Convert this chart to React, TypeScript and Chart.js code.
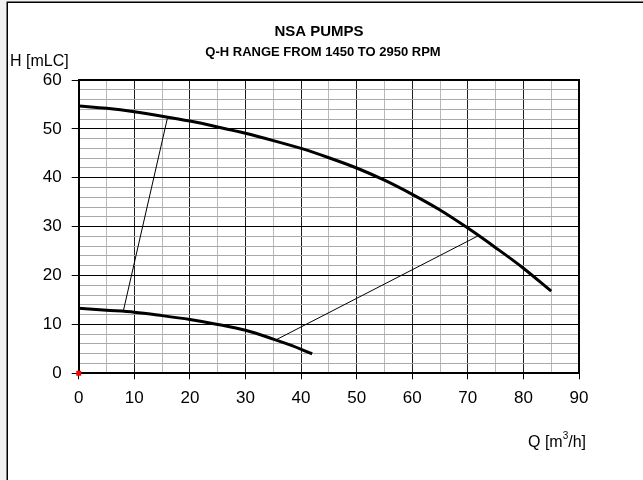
import React, { useEffect, useRef } from 'react';
import { Chart, registerables } from 'chart.js';

Chart.register(...registerables);

const TITLE = 'NSA PUMPS';
const SUBTITLE = 'Q-H RANGE FROM 1450 TO 2950 RPM';
const Y_LABEL = 'H [mLC]';
const X_LABEL_MAIN = 'Q [m';
const X_LABEL_SUP = '3';
const X_LABEL_END = '/h]';

// Q-H curve at 2950 rpm
const q2950 = [0, 5, 10, 15, 20, 25, 30, 35, 40, 45, 50, 55, 60, 65, 70, 75, 80, 85];
const h2950 = [54.7, 54.2, 53.5, 52.6, 51.6, 50.4, 49.1, 47.6, 46.0, 44.1, 42.0, 39.5, 36.6, 33.4, 29.7, 25.7, 21.5, 16.8];

// Q-H curve at 1450 rpm
const q1450 = [0, 5, 10, 15, 20, 25, 30, 35, 38, 42];
const h1450 = [13.3, 12.9, 12.5, 11.8, 11.0, 10.0, 8.8, 7.0, 5.8, 4.0];

// range boundary lines
const linkAQ = [8, 16];
const linkAH = [12.6, 52.4];
const linkBQ = [35.5, 72];
const linkBH = [6.85, 28.2];

// origin marker
const originQ = [0];
const originH = [0];

const X_MIN = 0;
const X_MAX = 90;
const Y_MIN = 0;
const Y_MAX = 60;

const FONT = "'Liberation Sans', Arial, sans-serif";

const toPts = (xs: number[], ys: number[]) => xs.map((x, i) => ({ x, y: ys[i] }));

export default function App() {
  const ref = useRef<HTMLCanvasElement | null>(null);

  useEffect(() => {
    const canvas = ref.current;
    if (!canvas) return;

    const frame = {
      id: 'frame',
      beforeDraw(chart: any) {
        const { ctx, width, height } = chart;
        ctx.save();
        ctx.fillStyle = '#f0f1f3';
        ctx.fillRect(0, 0, width, height);
        ctx.fillStyle = '#ffffff';
        ctx.fillRect(8, 3, width - 8, height - 3);
        ctx.strokeStyle = '#000';
        ctx.lineWidth = 1.5;
        ctx.beginPath();
        ctx.moveTo(7.25, height);
        ctx.lineTo(7.25, 2.25);
        ctx.lineTo(width, 2.25);
        ctx.stroke();
        ctx.restore();
      },
      afterDatasetsDraw(chart: any) {
        const { ctx, chartArea } = chart;
        ctx.save();
        ctx.strokeStyle = '#000';
        ctx.lineWidth = 2;
        ctx.beginPath();
        ctx.moveTo(chartArea.left, chartArea.top);
        ctx.lineTo(chartArea.right, chartArea.top);
        ctx.lineTo(chartArea.right, chartArea.bottom);
        ctx.stroke();
        ctx.restore();
      },
      afterDraw(chart: any) {
        const { ctx } = chart;
        ctx.save();
        ctx.fillStyle = '#000';
        ctx.textBaseline = 'alphabetic';
        ctx.textAlign = 'center';
        ctx.font = `bold 15px ${FONT}`;
        ctx.fillText(TITLE, 319, 36);
        ctx.font = `bold 13px ${FONT}`;
        ctx.fillText(SUBTITLE, 323, 56);

        ctx.textAlign = 'left';
        ctx.font = `16px ${FONT}`;
        ctx.fillText(Y_LABEL, 10, 66);

        // x axis title with superscript
        const xs = 528;
        const yb = 447;
        ctx.font = `16px ${FONT}`;
        ctx.fillText(X_LABEL_MAIN, xs, yb);
        let w = ctx.measureText(X_LABEL_MAIN).width;
        ctx.font = `10px ${FONT}`;
        ctx.fillText(X_LABEL_SUP, xs + w, yb - 8);
        w += ctx.measureText(X_LABEL_SUP).width;
        ctx.font = `16px ${FONT}`;
        ctx.fillText(X_LABEL_END, xs + w, yb);
        ctx.restore();
      },
    };

    const chart = new Chart(canvas, {
      type: 'scatter',
      data: {
        datasets: [
          {
            label: '2950 rpm',
            data: toPts(q2950, h2950),
            showLine: true,
            borderColor: '#000',
            borderWidth: 3,
            pointRadius: 0,
            cubicInterpolationMode: 'monotone',
          },
          {
            label: '1450 rpm',
            data: toPts(q1450, h1450),
            showLine: true,
            borderColor: '#000',
            borderWidth: 3,
            pointRadius: 0,
            cubicInterpolationMode: 'monotone',
          },
          {
            label: 'limit A',
            data: toPts(linkAQ, linkAH),
            showLine: true,
            borderColor: '#000',
            borderWidth: 1,
            pointRadius: 0,
          },
          {
            label: 'limit B',
            data: toPts(linkBQ, linkBH),
            showLine: true,
            borderColor: '#000',
            borderWidth: 1,
            pointRadius: 0,
          },
          {
            label: 'origin',
            data: toPts(originQ, originH),
            showLine: false,
            pointStyle: 'rect',
            pointRadius: 3.5,
            pointBackgroundColor: '#ff0000',
            pointBorderWidth: 0,
            clip: false,
          },
        ],
      } as any,
      options: {
        animation: false,
        responsive: false,
        maintainAspectRatio: false,
        devicePixelRatio: 1,
        layout: { padding: { left: 8, top: 80, right: 64, bottom: 0 } },
        plugins: {
          legend: { display: false },
          tooltip: { enabled: false },
          title: { display: false },
        },
        scales: {
          x: {
            type: 'linear',
            min: X_MIN,
            max: X_MAX,
            afterFit: (s: any) => {
              s.height = 106.7;
            },
            ticks: {
              stepSize: 5,
              autoSkip: false,
              maxRotation: 0,
              padding: 9,
              color: '#000',
              font: { family: FONT, size: 17 },
              callback: (v: any) => (Number(v) % 10 === 0 ? String(v) : ''),
            },
            grid: {
              color: (c: any) => (c.tick && c.tick.value % 10 === 0 ? '#1e1e1e' : '#b8b8b8'),
              tickColor: (c: any) => (c.tick && c.tick.value % 10 === 0 ? '#000' : 'rgba(0,0,0,0)'),
              tickLength: 6,
              lineWidth: 1,
            },
            border: { color: '#000', width: 2 },
          },
          y: {
            type: 'linear',
            min: Y_MIN,
            max: Y_MAX,
            afterFit: (s: any) => {
              s.width = 70.7;
            },
            ticks: {
              stepSize: 2,
              autoSkip: false,
              padding: 10,
              color: '#000',
              font: { family: FONT, size: 17 },
              callback: (v: any) => (Number(v) % 10 === 0 ? String(v) : ''),
            },
            grid: {
              color: (c: any) => (c.tick && c.tick.value % 10 === 0 ? '#000' : '#a8a8a8'),
              tickColor: (c: any) => (c.tick && c.tick.value % 10 === 0 ? '#000' : 'rgba(0,0,0,0)'),
              tickLength: 7,
              lineWidth: 1,
            },
            border: { color: '#000', width: 2 },
          },
        },
      } as any,
      plugins: [frame],
    });

    return () => {
      chart.destroy();
    };
  }, []);

  return (
    <div style={{ position: 'fixed', left: 0, top: 0, width: 643, height: 480, background: '#fff' }}>
      <canvas ref={ref} width={643} height={480} style={{ display: 'block', width: 643, height: 480 }} />
    </div>
  );
}
